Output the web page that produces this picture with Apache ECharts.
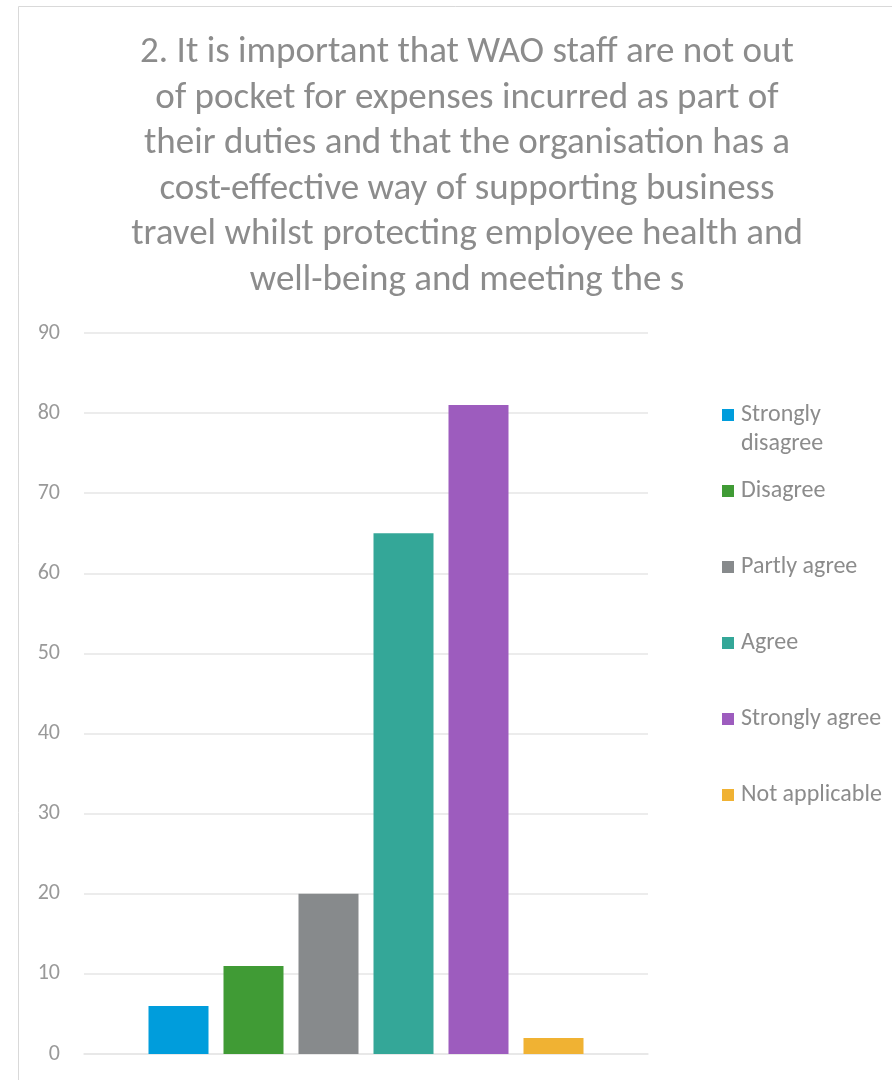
<!DOCTYPE html>
<html>
<head>
<meta charset="utf-8">
<script src="https://cdn.jsdelivr.net/npm/echarts@6/dist/echarts.min.js"></script>
<style>
html,body{margin:0;padding:0;background:#fff;}
#chart{width:892px;height:1080px;}
</style>
</head>
<body>
<div id="chart"></div>
<script>
var titleText = "2. It is important that WAO staff are not out\nof pocket for expenses incurred as part of\ntheir duties and that the organisation has a\ncost-effective way of supporting business\ntravel whilst protecting employee health and\nwell-being and meeting the s";
var categories = [""];
var seriesNames = ["Strongly disagree", "Disagree", "Partly agree", "Agree", "Strongly agree", "Not applicable"];
var seriesValues = [6, 11, 20, 65, 81, 2];
var seriesColors = ["#009ddc", "#409b35", "#878a8c", "#34a798", "#9d5cbe", "#f0b233"];
var yTicks = {min: 0, max: 90, interval: 10};

var FONT = "Carlito, Lato, 'Open Sans', sans-serif";
var LH = 29;
var legendCenters = [415, 491, 567, 643, 719, 795];

var series = seriesNames.map(function (name, i) {
  return {
    name: name,
    type: 'bar',
    data: [seriesValues[i]],
    barWidth: 60,
    barGap: '25%',
    itemStyle: {color: seriesColors[i]},
    emphasis: {disabled: true}
  };
});

var legends = seriesNames.map(function (name, i) {
  var multi = (name === 'Strongly disagree');
  return {
    left: 717,
    top: multi ? legendCenters[i] - 1.5 * LH - 5 : legendCenters[i] - 0.5 * LH - 5,
    orient: 'vertical',
    icon: 'rect',
    itemWidth: 12,
    itemHeight: 12,
    selectedMode: false,
    data: [name],
    formatter: multi ? function () { return ' \nStrongly\ndisagree'; } : '{name}',
    textStyle: {
      color: '#8c8c8c',
      fontSize: 24,
      fontFamily: FONT,
      lineHeight: LH,
      padding: [0, 0, 0, 2]
    }
  };
});

var chart = echarts.init(document.getElementById('chart'), null, {renderer: 'canvas'});
chart.setOption({
  animation: false,
  backgroundColor: '#ffffff',
  title: {
    text: titleText,
    left: 462,
    top: 25,
    textAlign: 'center',
    textStyle: {
      color: '#8c8c8c',
      fontSize: 37,
      fontWeight: 'normal',
      fontFamily: FONT,
      lineHeight: 45.6
    }
  },
  graphic: [{
    type: 'rect',
    shape: {x: 18.5, y: 6.5, width: 900, height: 1100},
    style: {fill: 'none', stroke: '#d9d9d9', lineWidth: 1},
    silent: true
  }],
  legend: legends,
  grid: {left: 84, right: 244, top: 333, bottom: 26, containLabel: false},
  xAxis: {
    type: 'category',
    data: categories,
    axisLine: {show: true, lineStyle: {color: '#e6e6e6', width: 1.5}},
    axisTick: {show: false},
    axisLabel: {show: false},
    splitLine: {show: false}
  },
  yAxis: {
    type: 'value',
    min: yTicks.min,
    max: yTicks.max,
    interval: yTicks.interval,
    axisLine: {show: false},
    axisTick: {show: false},
    axisLabel: {color: '#999999', fontSize: 22, fontFamily: FONT, margin: 24},
    splitLine: {lineStyle: {color: '#e6e6e6', width: 1.5}}
  },
  series: series
});
</script>
</body>
</html>
